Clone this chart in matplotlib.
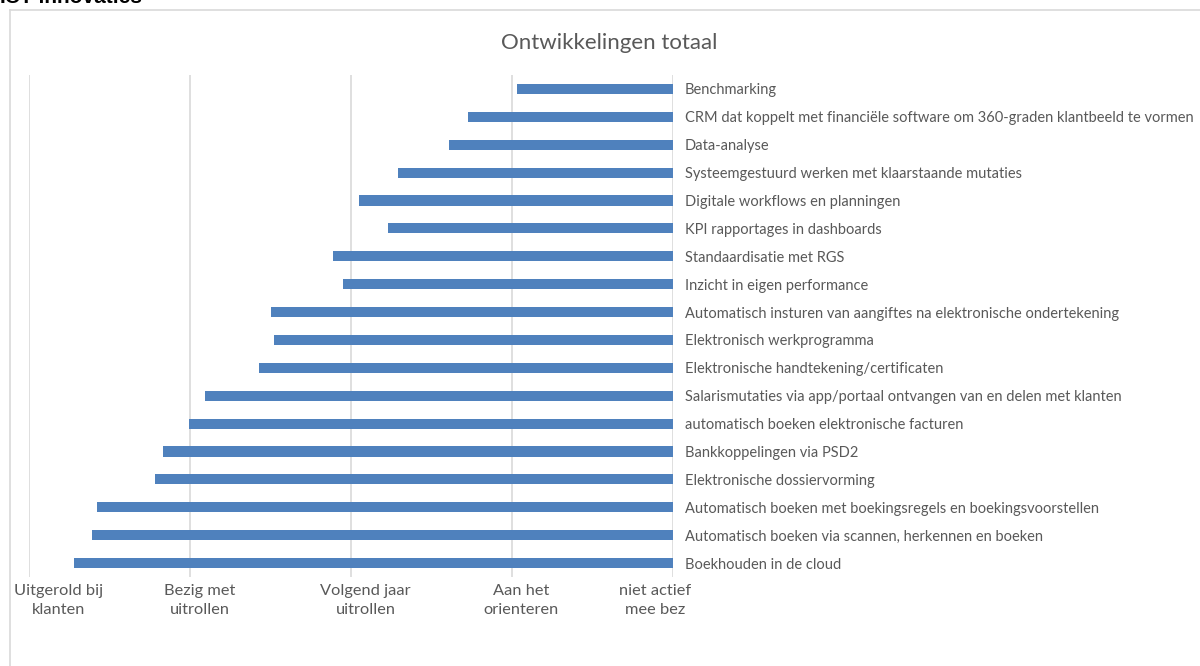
import matplotlib
matplotlib.use('Agg')
import matplotlib.pyplot as plt
from matplotlib.lines import Line2D

# Categories from top to bottom
onderwerpen = [
    'Benchmarking',
    'CRM dat koppelt met financiële software om 360-graden klantbeeld te vormen',
    'Data-analyse',
    'Systeemgestuurd werken met klaarstaande mutaties',
    'Digitale workflows en planningen',
    'KPI rapportages in dashboards',
    'Standaardisatie met RGS',
    'Inzicht in eigen performance',
    'Automatisch insturen van aangiftes na elektronische ondertekening',
    'Elektronisch werkprogramma',
    'Elektronische handtekening/certificaten',
    'Salarismutaties via app/portaal ontvangen van en delen met klanten',
    'automatisch boeken elektronische facturen',
    'Bankkoppelingen via PSD2',
    'Elektronische dossiervorming',
    'Automatisch boeken met boekingsregels en boekingsvoorstellen',
    'Automatisch boeken via scannen, herkennen en boeken',
    'Boekhouden in de cloud',
]
# average score (1 = uitgerold bij klanten ... 5 = niet actief)
scores = [4.03, 3.73, 3.61, 3.29, 3.05, 3.23, 2.89, 2.95, 2.50,
          2.52, 2.43, 2.09, 1.99, 1.83, 1.78, 1.42, 1.39, 1.28]

schaal = [1, 2, 3, 4, 5]
schaal_labels = ['Uitgerold bij\nklanten', 'Bezig met\nuitrollen', 'Volgend jaar\nuitrollen',
                 'Aan het\norienteren', 'niet actief\nmee bez']
# excel nudges the category labels a bit sideways
label_shift = [0.18, 0.06, 0.09, 0.06, -0.11]

blauw = '#4f81bd'
grijs_tekst = '#595959'
grijs_lijn = '#d9d9d9'
font = ['Lato', 'DejaVu Sans']

W, H = 1200, 666
fig = plt.figure(figsize=(W / 100, H / 100), dpi=100)

# chart frame (only top and left visible in the crop)
fig.add_artist(Line2D([10 / W, 10 / W], [0, 1 - 10 / H], color=grijs_lijn, lw=1.2))
fig.add_artist(Line2D([10 / W, 1], [1 - 10 / H, 1 - 10 / H], color=grijs_lijn, lw=1.2))

fig.text(0, 1 - 3 / H, 'ICT-innovaties', fontsize=15, fontweight='bold',
         family=['Liberation Sans', 'DejaVu Sans'], va='baseline', ha='left')

fig.text(609 / W, 1 - 43 / H, 'Ontwikkelingen totaal', fontsize=16, color=grijs_tekst,
         family=font, ha='center', va='center')

x0, x1 = 29.4, 672.6
y0, y1 = 75, 577
ax = fig.add_axes([x0 / W, 1 - y1 / H, (x1 - x0) / W, (y1 - y0) / H])

pos = list(range(len(onderwerpen)))
ax.barh(pos, [5 - s for s in scores], left=scores, height=0.36, color=blauw, zorder=3)

ax.set_xlim(1, 5)
ax.set_ylim(len(onderwerpen) - 0.5, -0.5)
ax.set_xticks(schaal)
ax.set_xticklabels([])
ax.grid(axis='x', color=grijs_lijn, lw=1.2, zorder=0)
for s in ax.spines.values():
    s.set_visible(False)
ax.tick_params(axis='x', length=0)

ax.yaxis.tick_right()
ax.set_yticks(pos)
ax.set_yticklabels(onderwerpen, fontsize=10.5, color=grijs_tekst, family=font)
ax.tick_params(axis='y', length=0, pad=9)

for x, lab, sh in zip(schaal, schaal_labels, label_shift):
    ax.text(x + sh, len(onderwerpen) - 0.5 + 0.25, lab, ha='center', va='top',
            fontsize=11.8, color=grijs_tekst, family=font, linespacing=1.5)

fig.savefig('out.png', dpi=100)
